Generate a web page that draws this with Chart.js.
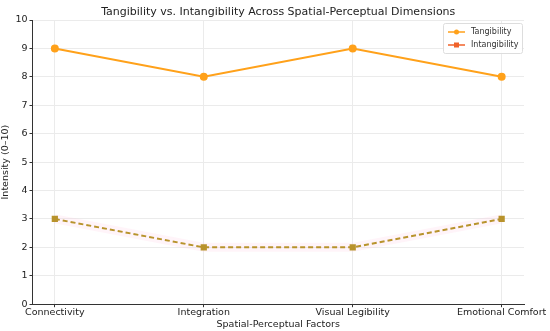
<!DOCTYPE html>
<html>
<head>
<meta charset="utf-8">
<script src="https://cdn.jsdelivr.net/npm/chart.js@4.4.1/dist/chart.umd.min.js"></script>
<style>
  html, body { margin: 0; padding: 0; background: #fff; }
  #wrap { width: 550px; height: 331px; }
</style>
</head>
<body>
<div id="wrap"><canvas id="chart" width="550" height="331"></canvas></div>
<script>
const categories = ['Connectivity', 'Integration', 'Visual Legibility', 'Emotional Comfort'];
const tangibility = [9, 8, 9, 8];
const intangibility = [3, 2, 2, 3];
const yTicks = [0, 1, 2, 3, 4, 5, 6, 7, 8, 9, 10];
const TITLE = 'Tangibility vs. Intangibility Across Spatial-Perceptual Dimensions';

const FONT = 'DejaVu Sans';
const TANG_COLOR = '#ffa11a';
const INTANG_COLOR = '#b8932c';
const INTANG_LEGEND = '#f0622a';

const toPoints = arr => arr.map((v, i) => ({ x: i, y: v }));

// title centred over the plot like matplotlib does, plus the legend box
const decorations = {
    id: 'decorations',
    afterDraw(chart) {
        const { ctx, chartArea } = chart;
        ctx.save();
        ctx.fillStyle = '#222';
        ctx.font = '11px ' + FONT;
        ctx.textAlign = 'center';
        ctx.textBaseline = 'middle';
        ctx.fillText(TITLE, (chartArea.left + chartArea.right) / 2, 12);

        const x = chartArea.right - 81, y = chartArea.top + 3, w = 79, h = 30;
        ctx.fillStyle = 'rgba(255,255,255,0.9)';
        ctx.strokeStyle = '#dddddd';
        ctx.lineWidth = 1;
        ctx.beginPath();
        ctx.roundRect(x + 0.5, y + 0.5, w, h, 2);
        ctx.fill();
        ctx.stroke();
        const items = [['Tangibility', TANG_COLOR, 'circle'], ['Intangibility', INTANG_LEGEND, 'rect']];
        items.forEach(([label, color, shape], i) => {
            const cy = y + 9 + i * 13;
            ctx.strokeStyle = color;
            ctx.lineWidth = 1.5;
            ctx.beginPath();
            ctx.moveTo(x + 5, cy);
            ctx.lineTo(x + 22, cy);
            ctx.stroke();
            ctx.fillStyle = color;
            if (shape === 'circle') {
                ctx.beginPath();
                ctx.arc(x + 13.5, cy, 2.5, 0, Math.PI * 2);
                ctx.fill();
            } else {
                ctx.fillRect(x + 11, cy - 2.5, 5, 5);
            }
            ctx.fillStyle = '#333';
            ctx.font = '8px ' + FONT;
            ctx.textAlign = 'left';
            ctx.fillText(label, x + 28, cy);
        });
        ctx.restore();
    }
};

new Chart(document.getElementById('chart'), {
    type: 'line',
    data: {
        datasets: [{
            label: 'Tangibility',
            data: toPoints(tangibility),
            borderColor: TANG_COLOR,
            backgroundColor: TANG_COLOR,
            borderWidth: 2,
            pointRadius: 3,
            pointStyle: 'circle',
            tension: 0
        }, {
            label: 'Intangibility',
            data: toPoints(intangibility),
            borderColor: INTANG_COLOR,
            backgroundColor: INTANG_COLOR,
            borderWidth: 2,
            borderDash: [5, 3],
            pointRadius: 3,
            pointStyle: 'rect',
            tension: 0
        }, {
            label: 'band',
            data: toPoints(intangibility),
            borderColor: 'rgba(255, 200, 225, 0.2)',
            borderWidth: 9,
            pointRadius: 0,
            tension: 0
        }]
    },
    options: {
        responsive: false,
        animation: false,
        layout: { padding: { left: 0, right: 26, top: 20, bottom: 0 } },
        plugins: {
            legend: { display: false },
            tooltip: { enabled: false },
            title: { display: false }
        },
        scales: {
            x: {
                type: 'linear',
                min: -0.15,
                max: 3.15,
                afterBuildTicks: axis => { axis.ticks = categories.map((c, i) => ({ value: i })); },
                ticks: {
                    callback: v => categories[v],
                    color: '#222',
                    font: { family: FONT, size: 9.5 },
                    maxRotation: 0,
                    autoSkip: false,
                    padding: 0
                },
                grid: { color: '#ebebeb', tickColor: '#333', tickLength: 3, drawTicks: true },
                border: { color: '#333', width: 1 },
                title: {
                    display: true,
                    text: 'Spatial-Perceptual Factors',
                    color: '#222',
                    font: { family: FONT, size: 9.5 },
                    padding: { top: 0, bottom: 1 }
                }
            },
            y: {
                min: 0,
                max: 10,
                afterBuildTicks: axis => { axis.ticks = yTicks.map(v => ({ value: v })); },
                ticks: {
                    color: '#222',
                    font: { family: FONT, size: 9.5 },
                    padding: 2
                },
                grid: { color: '#ebebeb', tickColor: '#333', tickLength: 3 },
                border: { color: '#333', width: 1 },
                title: {
                    display: true,
                    text: 'Intensity (0–10)',
                    color: '#222',
                    font: { family: FONT, size: 9.5 },
                    padding: { top: 0, bottom: 2 }
                }
            }
        }
    },
    plugins: [decorations]
});
</script>
</body>
</html>
